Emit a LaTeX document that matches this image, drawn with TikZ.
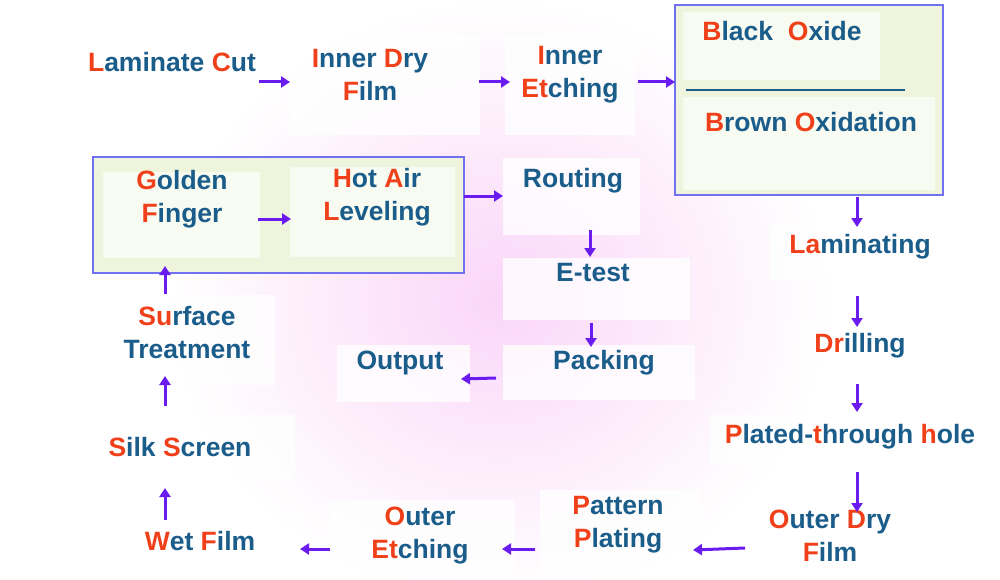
\documentclass[tikz,border=0pt]{standalone}
\usepackage{fontspec}
\setmainfont{Liberation Sans}
\usetikzlibrary{arrows.meta}
\definecolor{tb}{HTML}{1A5C8A}
\definecolor{tr}{HTML}{F0401A}
\definecolor{ar}{HTML}{6A1BF0}
\definecolor{gf}{HTML}{EEF5DC}
\definecolor{gb}{HTML}{7070F0}
\definecolor{pk}{HTML}{FAD6F8}
\newcommand\rl[1]{\textcolor{tr}{#1}}
\begin{document}
\begin{tikzpicture}[x=1pt,y=-1pt,
  box/.style={fill=white,fill opacity=0.8,text opacity=1,draw=none},
  txt/.style={text=tb,font=\fontsize{26.5}{33}\selectfont\bfseries,align=center},
  grp/.style={fill=gf,draw=gb,line width=2.5},
  arr/.style={draw=ar,line width=3,-{Triangle[length=9,width=11]}}]
\useasboundingbox (0,0) rectangle (1000,580);
\fill[white] (0,0) rectangle (1000,580);
\begin{scope}
\clip (0,0) rectangle (1000,580);
\shade[inner color=pk,outer color=white] (500,300) ellipse (330 and 300);
\end{scope}
% groups
\draw[grp] (675,5) rectangle (943,195);
\draw[grp] (93,157) rectangle (464,273);
% faint boxes
\fill[box] (60,40) rectangle (275,105);
\fill[box] (290,35) rectangle (480,135);
\fill[box] (505,35) rectangle (635,135);
\fill[fill=white,opacity=0.6] (683,12) rectangle (880,80);
\fill[fill=white,opacity=0.6] (683,97) rectangle (935,190);
\fill[fill=white,opacity=0.6] (103,172) rectangle (260,258);
\fill[fill=white,opacity=0.6] (290,167) rectangle (455,257);
\fill[box] (503,158) rectangle (640,235);
\fill[box] (503,258) rectangle (690,320);
\fill[box] (503,345) rectangle (695,400);
\fill[box] (337,345) rectangle (470,402);
\fill[box] (770,225) rectangle (955,280);
\fill[box] (800,325) rectangle (935,380);
\fill[box] (710,415) rectangle (990,465);
\fill[box] (740,505) rectangle (930,575);
\fill[box] (540,490) rectangle (700,575);
\fill[box] (330,500) rectangle (515,575);
\fill[box] (95,515) rectangle (300,575);
\fill[box] (95,415) rectangle (295,480);
\fill[box] (100,295) rectangle (275,385);
\draw[tb,line width=1.5] (686,90) -- (905,90);
% texts
\node[txt] (lc) at (172,62) {\rl{L}aminate \rl{C}ut};
\node[txt] (idf) at (370,75) {\rl{I}nner \rl{D}ry\\\rl{F}ilm};
\node[txt] (ie) at (570,75) {\rl{I}nner\\\rl{Et}ching};
\node[txt] (bo) at (782,31) {\rl{B}lack\ \ \rl{O}xide};
\node[txt] (bro) at (811,122) {\rl{B}rown \rl{O}xidation};
\node[txt] (gfn) at (182,199) {\rl{G}olden\\\rl{F}inger};
\node[txt] (hal) at (377,197) {\rl{H}ot \rl{A}ir\\\rl{L}eveling};
\node[txt] (rt) at (573,181) {Routing};
\node[txt] (et) at (593,273) {E-test};
\node[txt] (pa) at (604,363) {Packing};
\node[txt] (op) at (400,363) {Output};
\node[txt] (la) at (860,247) {\rl{La}minating};
\node[txt] (dr) at (860,346) {\rl{Dr}illing};
\node[txt] (pth) at (850,437) {\rl{P}lated-\rl{t}hrough \rl{h}ole};
\node[txt] (odf) at (830,536) {\rl{O}uter \rl{D}ry\\\rl{F}ilm};
\node[txt] (pp) at (618,525) {\rl{P}attern\\\rl{P}lating};
\node[txt] (oe) at (420,536) {\rl{O}uter\\\rl{Et}ching};
\node[txt] (wf) at (200,541) {\rl{W}et \rl{F}ilm};
\node[txt] (ss) at (180,447) {\rl{S}ilk \rl{S}creen};
\node[txt] (st) at (187,333) {\rl{Su}rface\\Treatment};
% arrow coordinates
\coordinate (a1) at (259,82); \coordinate (a2) at (290,82);
\coordinate (b1) at (479,82); \coordinate (b2) at (510,82);
\coordinate (c1) at (638,82); \coordinate (c2) at (675,82);
\coordinate (d1) at (464,196); \coordinate (d2) at (503,196);
\coordinate (e1) at (258,219); \coordinate (e2) at (291,219);
\coordinate (f1) at (857,197); \coordinate (f2) at (857,227);
\coordinate (g1) at (857,296); \coordinate (g2) at (857,327);
\coordinate (h1) at (857,384); \coordinate (h2) at (857,412);
\coordinate (i1) at (857,472); \coordinate (i2) at (857,512);
\coordinate (j1) at (745,548); \coordinate (j2) at (693,550);
\coordinate (k1) at (535,549); \coordinate (k2) at (502,549);
\coordinate (l1) at (330,549); \coordinate (l2) at (300,549);
\coordinate (m1) at (165,520); \coordinate (m2) at (165,488);
\coordinate (n1) at (165,406); \coordinate (n2) at (165,376);
\coordinate (o1) at (165,294); \coordinate (o2) at (165,266);
\coordinate (p1) at (590,230); \coordinate (p2) at (590,257);
\coordinate (q1) at (591,323); \coordinate (q2) at (591,347);
\coordinate (r1) at (496,378); \coordinate (r2) at (461,379);
\foreach \s in {a,b,c,d,e,f,g,h,i,j,k,l,m,n,o,p,q,r}{\draw[arr] (\s1) -- (\s2);}
\end{tikzpicture}
\end{document}
